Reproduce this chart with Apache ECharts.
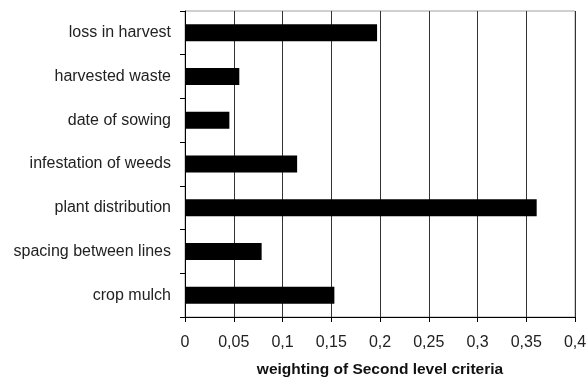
<!DOCTYPE html>
<html><head><meta charset="utf-8">
<script src="https://cdn.jsdelivr.net/npm/echarts@6/dist/echarts.min.js"></script>
<style>html,body{margin:0;padding:0;background:#fff}#c{width:587px;height:379px}</style>
</head><body><div id="c"></div>
<script>
var categories = ['loss in harvest','harvested waste','date of sowing','infestation of weeds','plant distribution','spacing between lines','crop mulch'];
var weights = [0.197, 0.0557, 0.0455, 0.115, 0.3607, 0.0786, 0.1532];
var xTicks = [0, 0.05, 0.1, 0.15, 0.2, 0.25, 0.3, 0.35, 0.4];
var xTickLabels = ['0','0,05','0,1','0,15','0,2','0,25','0,3','0,35','0,4'];
var axisName = 'weighting of Second level criteria';

var chart = echarts.init(document.getElementById('c'), null, {renderer:'canvas'});
chart.setOption({
  animation:false,
  textStyle:{fontFamily:'Liberation Sans, Arial, sans-serif'},
  grid:{left:185, right:12, top:11, bottom:62, show:true, borderColor:'#a0a0a0', borderWidth:1, containLabel:false, outerBoundsMode:'none'},
  xAxis:{
    type:'value', min:xTicks[0], max:xTicks[xTicks.length-1], interval:0.05,
    axisLine:{show:true, lineStyle:{color:'#000', width:1}},
    axisTick:{show:true, length:5, lineStyle:{color:'#000'}},
    splitLine:{show:true, lineStyle:{color:'#333', width:1}},
    axisLabel:{margin:18, fontSize:16, color:'#222', formatter:function(v){
      for (var i=0;i<xTicks.length;i++){ if (Math.abs(xTicks[i]-v)<1e-9) return xTickLabels[i]; } return ''; }},
    name:axisName, nameLocation:'middle', nameGap:45,
    nameTextStyle:{fontWeight:'bold', fontSize:15.5, color:'#111'}
  },
  yAxis:{
    type:'category', data:categories, inverse:true,
    axisLine:{show:true, lineStyle:{color:'#000', width:1}},
    axisTick:{show:true, length:5, lineStyle:{color:'#000'}},
    axisLabel:{margin:14, fontSize:16, color:'#222'},
    splitLine:{show:false}
  },
  series:[{type:'bar', data:weights, barWidth:17, itemStyle:{color:'#000'}}]
});
</script></body></html>
